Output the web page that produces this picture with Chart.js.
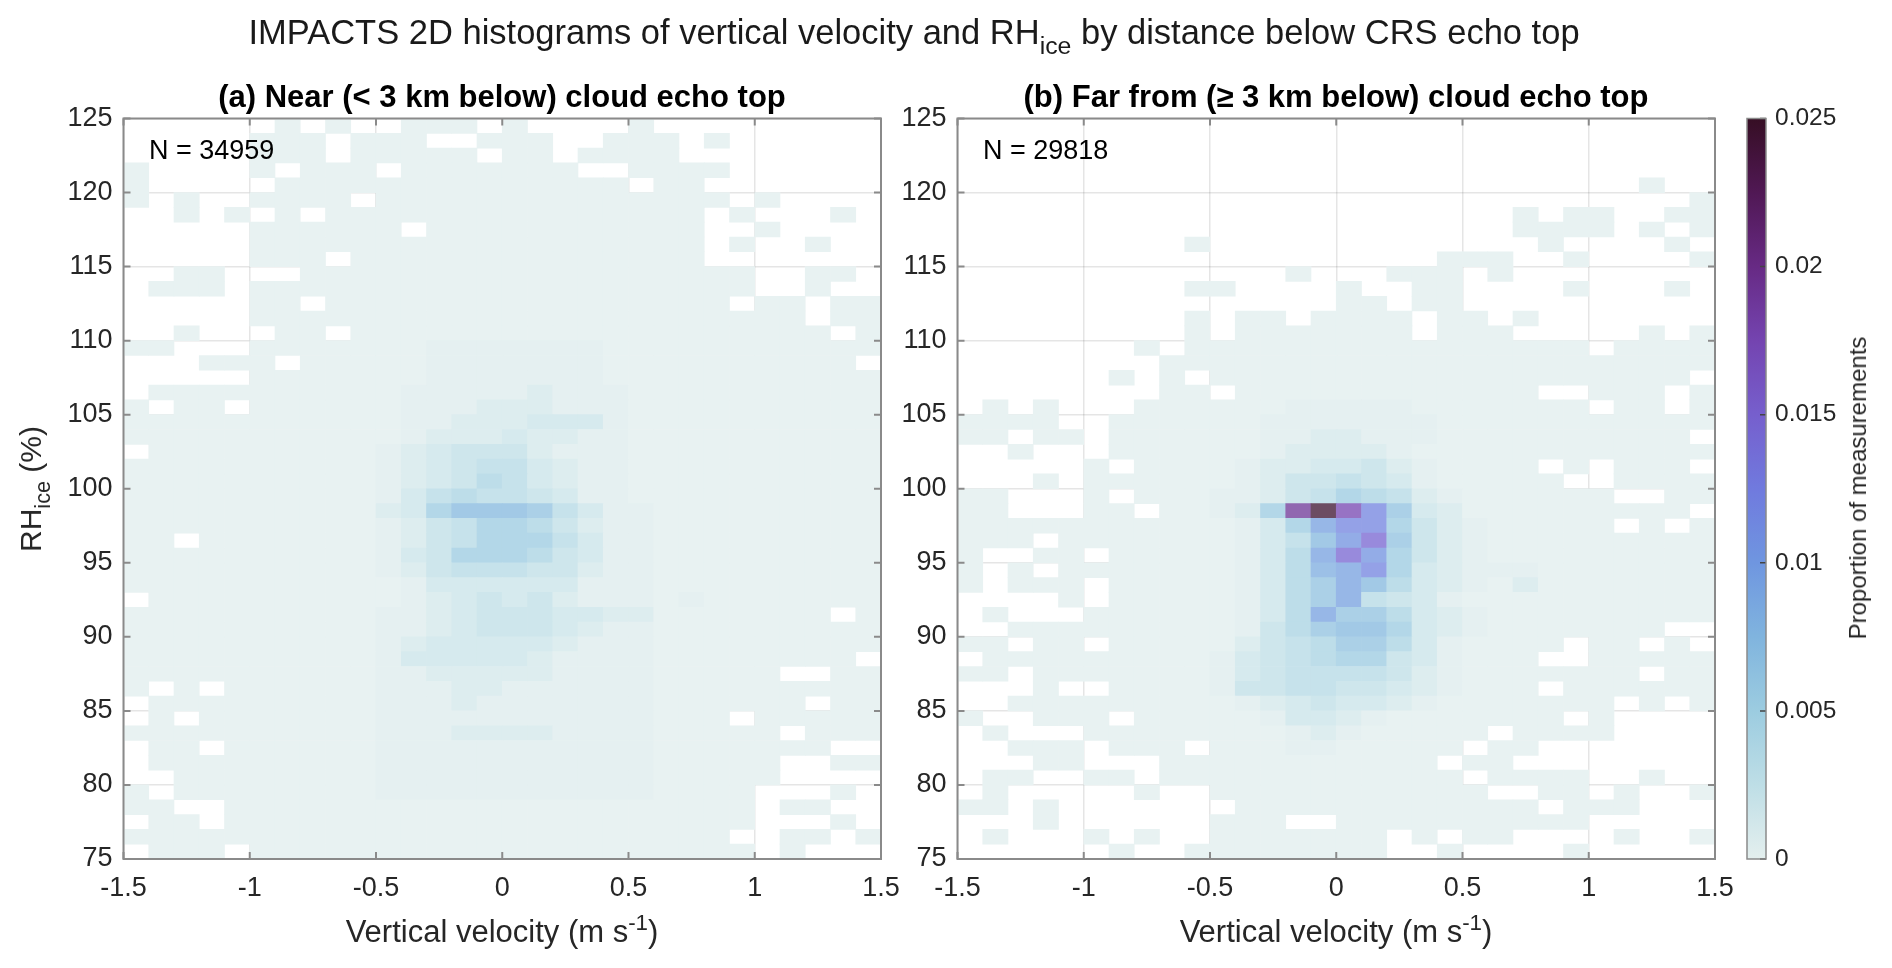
<!DOCTYPE html>
<html>
<head>
<meta charset="utf-8">
<title>IMPACTS 2D histograms</title>
<script src="https://cdn.jsdelivr.net/npm/chart.js@4.4.1/dist/chart.umd.min.js"></script>
<style>
  body { margin: 0; width: 1892px; height: 968px; position: relative; overflow: hidden; background: #fff;
         font-family: 'Liberation Sans', Arial, Helvetica, sans-serif; color: #262626; }
  canvas { position: absolute; top: 0; }
  .txt { position: absolute; white-space: nowrap; line-height: 1; }
  .center { transform: translateX(-50%); }
  .rot { transform: translate(-50%, -50%) rotate(-90deg); }
  .bold { font-weight: bold; color: #000; }
  sub { font-size: 0.72em; vertical-align: -0.42em; line-height: 0; }
  sup { font-size: 0.72em; vertical-align: 0.55em; line-height: 0; }
</style>
</head>
<body>
<canvas id="near" width="920" height="968" style="left:0px"></canvas>
<canvas id="far" width="860" height="968" style="left:890px"></canvas>
<canvas id="cbar" width="162" height="968" style="left:1730px"></canvas>

<div class="txt center" style="left:914px; top:15px; font-size:34.5px; color:#1a1a1a;">IMPACTS 2D histograms of vertical velocity and RH<sub>ice</sub> by distance below CRS echo top</div>
<div class="txt center bold" style="left:502px; top:81px; font-size:31px;">(a) Near (&lt; 3 km below) cloud echo top</div>
<div class="txt center bold" style="left:1336px; top:81px; font-size:31px;">(b) Far from (≥ 3 km below) cloud echo top</div>
<div class="txt" id="nearN" style="left:149px; top:137px; font-size:27px; color:#000;"></div>
<div class="txt" id="farN" style="left:983px; top:137px; font-size:27px; color:#000;"></div>
<div class="txt center" style="left:502px; top:916px; font-size:31px;">Vertical velocity (m s<sup>-1</sup>)</div>
<div class="txt center" style="left:1336px; top:916px; font-size:31px;">Vertical velocity (m s<sup>-1</sup>)</div>
<div class="txt rot" style="left:31px; top:489px; font-size:30px;">RH<sub>ice</sub> (%)</div>
<div class="txt rot" style="left:1858px; top:488px; font-size:24px;">Proportion of measurements</div>

<script>
// bins: left edges of the vertical-velocity bins (m/s) and top edges of the RH_ice bins (%)
const velocityBinStarts = [-1.5, -1.4, -1.3, -1.2, -1.1, -1.0, -0.9, -0.8, -0.7, -0.6,
                           -0.5, -0.4, -0.3, -0.2, -0.1, 0.0, 0.1, 0.2, 0.3, 0.4,
                           0.5, 0.6, 0.7, 0.8, 0.9, 1.0, 1.1, 1.2, 1.3, 1.4];
const rhBinTops = [125, 124, 123, 122, 121, 120, 119, 118, 117, 116,
                   115, 114, 113, 112, 111, 110, 109, 108, 107, 106,
                   105, 104, 103, 102, 101, 100, 99, 98, 97, 96,
                   95, 94, 93, 92, 91, 90, 89, 88, 87, 86,
                   85, 84, 83, 82, 81, 80, 79, 78, 77, 76];
const xTickValues = [-1.5, -1, -0.5, 0, 0.5, 1, 1.5];
const yTickValues = [75, 80, 85, 90, 95, 100, 105, 110, 115, 120, 125];
const colorbarTicks = [0, 0.005, 0.01, 0.015, 0.02, 0.025];

const nearCount = 34959;
const farCount = 29818;

// proportion of measurements per cell, coded one character per bin ('.' = no data)
const levelCodes = '0123456789abcdefghijkl';
const levelValues = [0.0002, 0.0005, 0.0012, 0.0018, 0.0025, 0.0033, 0.0042, 0.0052, 0.0062, 0.0072,
                     0.0082, 0.0093, 0.0105, 0.0118, 0.0132, 0.0146, 0.016, 0.0175, 0.019, 0.0205,
                     0.022, 0.0245];

// rows run from RH 125 (top) down to 75; columns from -1.5 to 1.5 m/s
const nearRows = [
  "......0.0..000.0....0.........",
  ".....000.000..000..000.0......",
  ".....000.00000.00.0000........",
  "0....0.000.0000000..0000......",
  "0.....00000000000000.00.......",
  "0.0..0000.00000000000000.0....",
  "..0.0.0.000000000000000.0...0.",
  ".....000000.00000000000..0....",
  ".....000000000000000000.0..0..",
  ".....000.00000000000000.......",
  "..00...000000000000000000..00.",
  ".000.00000000000000000000..0..",
  ".....00.0000000000000000.00.00",
  ".....0000000000000000000000.00",
  "..0...00.0000000000000000000.0",
  "00...0000000111111100000000000",
  "...000.0000011111110000000000.",
  ".....0000000111111100000000000",
  ".00000000001111121110000000000",
  "0.00.0000001112221110000000000",
  "000000000001122233310000000000",
  "000000000001222322110000000000",
  ".00000000012344421110000000000",
  "000000000012345532110000000000",
  "000000000012346532110000000000",
  "000000000013565543110000000000",
  "000000000023799985311000000000",
  "000000000012457764211000000000",
  "00.000000012457775311000000000",
  "000000000013477764311000000000",
  "000000000012455544211000000000",
  "000000000001333333111000000000",
  ".00000000001234342111010000000",
  "0000000000112344433220000000.0",
  "000000000011234443211000000000",
  "000000000012333332111000000000",
  "00000000001333332111100000000.",
  "00000000001122222111100000..00",
  "0.0.00000011122111111000000000",
  ".00000000011121111111000000.00",
  ".0.000000011111111111000.00000",
  "00000000001112222111100000.000",
  ".00.000000111111111110000000..",
  ".0000000001111111111100000..00",
  "..000000001111111111100000....",
  "0.00000000111111111110000...0.",
  "00..000000000000000000000.00..",
  ".00.000000000000000000000...0.",
  "000000000000000000000000..00.0",
  ".000.00000000000000000000.0..."
];

const farRows = [
  "..............................",
  "..............................",
  "..............................",
  "..............................",
  "...........................0..",
  ".............................0",
  "......................0.00..00",
  "......................0000.0.0",
  ".........0.............0....0.",
  "...................000..0....0",
  ".............0...000.0........",
  ".........00....0..00....0...0.",
  "...............00.00..........",
  ".........0.00.0000.00.0.......",
  ".........0.0000000.000.....0.0",
  ".......0.0000000000000000.0000",
  "........0000000000000000000000",
  "......0.0.0000000000000000000.",
  "........00.000000000000..000.0",
  ".0.0...000000111110000000.00.0",
  "0000..000000111111100000000000",
  "00.00.00000011221110000000000.",
  "..0...000000122221000000000000",
  ".....0.0000122334210000.0.000.",
  "...0.0000001244543100000..0000",
  "00...0.0001124576521000000..00",
  "00...00.00127ilhd832000000000.",
  "00000000000137bdd742100000.0.0",
  "000.00000001359cf8421000000000",
  "0..00.00000136bfc7421000000000",
  "0.0.0000000136abd7321110000000",
  "0.000.000001368b96321020000000",
  "....0.000001368b54310000000000",
  ".0...000000136b886321000000000",
  "..00000000014689973210000000..",
  "00.00.000002456886310000.00.0.",
  ".0000000001345677431000..00000",
  "00.000000013455554210000000.00",
  "...0..00001445544321000.000000",
  "..000000000123433210000000.0.0",
  "0..000.00000133210000000.0....",
  ".0...0000000012100000.0000....",
  "..000.000.0001100000.00.......",
  "...00...00000000000.00........",
  ".00..00.000000000000.0000..0..",
  ".0.....0..00000000000..00.0..0",
  "00.0.......000000000000.000...",
  "...0......000..0000000000.....",
  ".0...0.0..0000000.0.00....0..0",
  "......0..00000000..0....0....."
];

// colour scale (dense-like), colour limit and cell transparency
const denseStops = [
  [0.0, [228, 239, 238]], [0.1, [190, 222, 230]], [0.2, [156, 204, 224]],
  [0.3, [128, 180, 222]], [0.4, [111, 150, 224]], [0.5, [112, 122, 222]],
  [0.6, [118, 95, 205]], [0.7, [116, 68, 176]], [0.8, [103, 42, 132]],
  [0.9, [80, 24, 84]], [1.0, [54, 14, 36]]
];
const colorMax = 0.025;
const cellAlpha = 0.75;

const plotTop = 118.5;
const plotBottom = 859;
const pageHeight = 968;
const tickFont = { family: "'Liberation Sans', Arial, sans-serif", size: 27 };
const gridColor = 'rgba(0, 0, 0, 0.1)';
const axisColor = '#8a8a8a';

document.getElementById('nearN').textContent = 'N = ' + nearCount;
document.getElementById('farN').textContent = 'N = ' + farCount;

function colormap(t) {
    t = Math.max(0, Math.min(1, t));
    for (let i = 1; i < denseStops.length; i++) {
        const [t0, c0] = denseStops[i - 1];
        const [t1, c1] = denseStops[i];
        if (t <= t1) {
            const f = (t - t0) / (t1 - t0);
            return c0.map((v, k) => v + f * (c1[k] - v));
        }
    }
    return denseStops[denseStops.length - 1][1];
}

function toCss(rgb) {
    return `rgb(${rgb.map(v => Math.round(v)).join(',')})`;
}

// cells are drawn opaque, pre-mixed with the white background
function cellColor(value) {
    const c = colormap(value / colorMax);
    return toCss(c.map(v => cellAlpha * v + (1 - cellAlpha) * 255));
}

function buildCells(rows) {
    const data = [];
    const colors = [];
    rows.forEach((row, r) => {
        const line = row.padEnd(velocityBinStarts.length, '.').slice(0, velocityBinStarts.length);
        [...line].forEach((ch, c) => {
            if (ch === '.') return;
            const value = levelValues[levelCodes.indexOf(ch)];
            const top = rhBinTops[r];
            data.push({ x: velocityBinStarts[c] + 0.05, y: [top - 1, top] });
            colors.push(cellColor(value));
        });
    });
    return { data, colors };
}

// box around the axes with MATLAB-style inward ticks
const framePlugin = {
    id: 'frame',
    afterDatasetsDraw(chart) {
        const { ctx, chartArea: a, scales } = chart;
        const len = 7;
        ctx.save();
        ctx.strokeStyle = axisColor;
        ctx.lineWidth = 2;
        ctx.beginPath();
        xTickValues.forEach(v => {
            const px = scales.x.getPixelForValue(v);
            ctx.moveTo(px, a.bottom); ctx.lineTo(px, a.bottom - len);
            ctx.moveTo(px, a.top); ctx.lineTo(px, a.top + len);
        });
        yTickValues.forEach(v => {
            const py = scales.y.getPixelForValue(v);
            ctx.moveTo(a.left, py); ctx.lineTo(a.left + len, py);
            ctx.moveTo(a.right, py); ctx.lineTo(a.right - len, py);
        });
        ctx.stroke();
        ctx.strokeRect(a.left, a.top, a.right - a.left, a.bottom - a.top);
        ctx.restore();
    }
};

const colorbarPlugin = {
    id: 'cbframe',
    afterDatasetsDraw(chart) {
        const { ctx, chartArea: a, scales } = chart;
        ctx.save();
        ctx.strokeStyle = '#444';
        ctx.lineWidth = 1.5;
        ctx.beginPath();
        colorbarTicks.forEach(v => {
            const py = scales.y.getPixelForValue(v);
            ctx.moveTo(a.right - 6, py); ctx.lineTo(a.right, py);
        });
        ctx.stroke();
        ctx.strokeStyle = axisColor;
        ctx.lineWidth = 1.5;
        ctx.strokeRect(a.left, a.top, a.right - a.left, a.bottom - a.top);
        ctx.restore();
    }
};

function makePanel(canvasId, rows, yAxisWidth, padRight) {
    const cells = buildCells(rows);
    return new Chart(document.getElementById(canvasId), {
        type: 'bar',
        data: {
            datasets: [{
                data: cells.data,
                backgroundColor: cells.colors,
                borderWidth: 0,
                barPercentage: 1,
                categoryPercentage: 1
            }]
        },
        options: {
            responsive: false,
            animation: false,
            devicePixelRatio: 1,
            events: [],
            layout: { padding: { left: 0, top: plotTop, right: padRight, bottom: 0 } },
            plugins: { legend: { display: false }, tooltip: { enabled: false } },
            scales: {
                x: {
                    type: 'linear', min: -1.5, max: 1.5, offset: false,
                    grid: { offset: false, color: gridColor, lineWidth: 1.5, drawTicks: false },
                    border: { display: false },
                    afterBuildTicks: s => { s.ticks = xTickValues.map(v => ({ value: v })); },
                    afterFit: s => { s.height = pageHeight - plotBottom; },
                    ticks: { padding: 13, font: tickFont, color: '#262626', maxRotation: 0, autoSkip: false,
                             callback: v => String(v) }
                },
                y: {
                    type: 'linear', min: 75, max: 125,
                    grid: { color: gridColor, lineWidth: 1.5, drawTicks: false },
                    border: { display: false },
                    afterBuildTicks: s => { s.ticks = yTickValues.map(v => ({ value: v })); },
                    afterFit: s => { s.width = yAxisWidth; },
                    ticks: { padding: 11, font: tickFont, color: '#262626', autoSkip: false,
                             callback: v => String(v) }
                }
            }
        },
        plugins: [framePlugin]
    });
}

makePanel('near', nearRows, 123.5, 39);
makePanel('far', farRows, 67.5, 35);

new Chart(document.getElementById('cbar'), {
    type: 'bar',
    data: {
        labels: ['scale'],
        datasets: [{
            data: [[0, colorMax]],
            borderWidth: 0,
            barPercentage: 1,
            categoryPercentage: 1,
            backgroundColor: ctx => {
                const { chart } = ctx;
                const area = chart.chartArea;
                if (!area) return toCss(denseStops[0][1]);
                const g = chart.ctx.createLinearGradient(0, area.bottom, 0, area.top);
                denseStops.forEach(([t, c]) => g.addColorStop(t, toCss(c)));
                return g;
            }
        }]
    },
    options: {
        responsive: false,
        animation: false,
        devicePixelRatio: 1,
        events: [],
        layout: { padding: { left: 17, top: plotTop, right: 0, bottom: pageHeight - plotBottom } },
        plugins: { legend: { display: false }, tooltip: { enabled: false } },
        scales: {
            x: { display: false },
            y: {
                position: 'right', min: 0, max: colorMax,
                grid: { display: false, drawTicks: false },
                border: { display: false },
                afterBuildTicks: s => { s.ticks = colorbarTicks.map(v => ({ value: v })); },
                afterFit: s => { s.width = 126; },
                ticks: { padding: 9, font: { family: "'Liberation Sans', Arial, sans-serif", size: 24.5 },
                         color: '#262626', callback: v => String(Number(v.toFixed(3))) }
            }
        }
    },
    plugins: [colorbarPlugin]
});
</script>
</body>
</html>
